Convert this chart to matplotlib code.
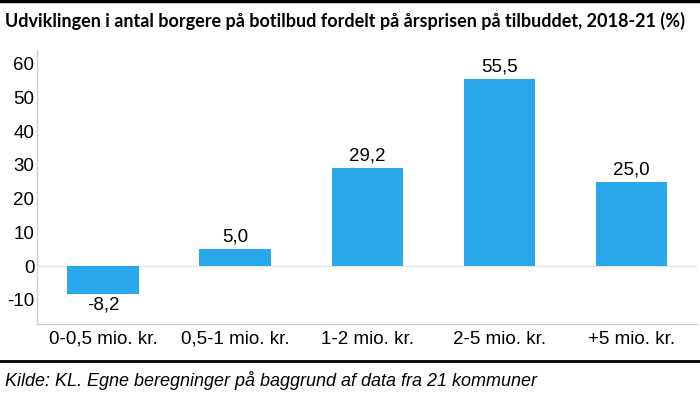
import matplotlib.pyplot as plt
from matplotlib.lines import Line2D

# data
categories = ['0-0,5 mio. kr.', '0,5-1 mio. kr.', '1-2 mio. kr.', '2-5 mio. kr.', '+5 mio. kr.']
values = [-8.2, 5.0, 29.2, 55.5, 25.0]
yticks = [-10, 0, 10, 20, 30, 40, 50, 60]

bar_color = '#29a8eb'

fig = plt.figure(figsize=(7, 3.94), dpi=100)
ax = fig.add_axes([0.053, 0.1777, 0.943, 0.696])

x = range(len(categories))
ax.bar(x, values, width=0.54, color=bar_color, zorder=3)
ax.axhline(0, color='#e6e6e6', lw=1, zorder=1)

for xi, v in zip(x, values):
    label = f'{v:.1f}'.replace('.', ',')
    if v >= 0:
        ax.text(xi, v + 1.0, label, ha='center', va='bottom', fontsize=13.5,
                family='Liberation Sans')
    else:
        ax.text(xi, v - 0.8, label, ha='center', va='top', fontsize=13.5,
                family='Liberation Sans')

ax.set_xlim(-0.5, 4.5)
ax.set_ylim(-17.2, 64.2)
ax.set_yticks(yticks)
ax.set_yticklabels([str(t) for t in yticks], family='Liberation Sans', fontsize=13.5)
ax.set_xticks(list(x))
ax.set_xticklabels(categories, family='Liberation Sans', fontsize=13.5)
ax.tick_params(length=0)
ax.tick_params(axis='y', pad=2)
ax.tick_params(axis='x', pad=5)

for side in ['top', 'right']:
    ax.spines[side].set_visible(False)
for side in ['left', 'bottom']:
    ax.spines[side].set_color('#d0d0d0')
    ax.spines[side].set_linewidth(1)

# title, source and rules
fig.text(0.007, 0.948, 'Udviklingen i antal borgere på botilbud fordelt på årsprisen på tilbuddet, 2018-21 (%)',
         fontsize=13, fontweight='bold', family='Lato', va='center', ha='left')
fig.text(0.007, 0.035, 'Kilde: KL. Egne beregninger på baggrund af data fra 21 kommuner',
         fontsize=13, style='italic', family='Liberation Sans', va='center', ha='left')
fig.add_artist(Line2D([0, 1], [0.997, 0.997], color='black', lw=2.5, transform=fig.transFigure))
fig.add_artist(Line2D([0, 1], [0.083, 0.083], color='black', lw=2, transform=fig.transFigure))

fig.savefig('out.png', dpi=100)
